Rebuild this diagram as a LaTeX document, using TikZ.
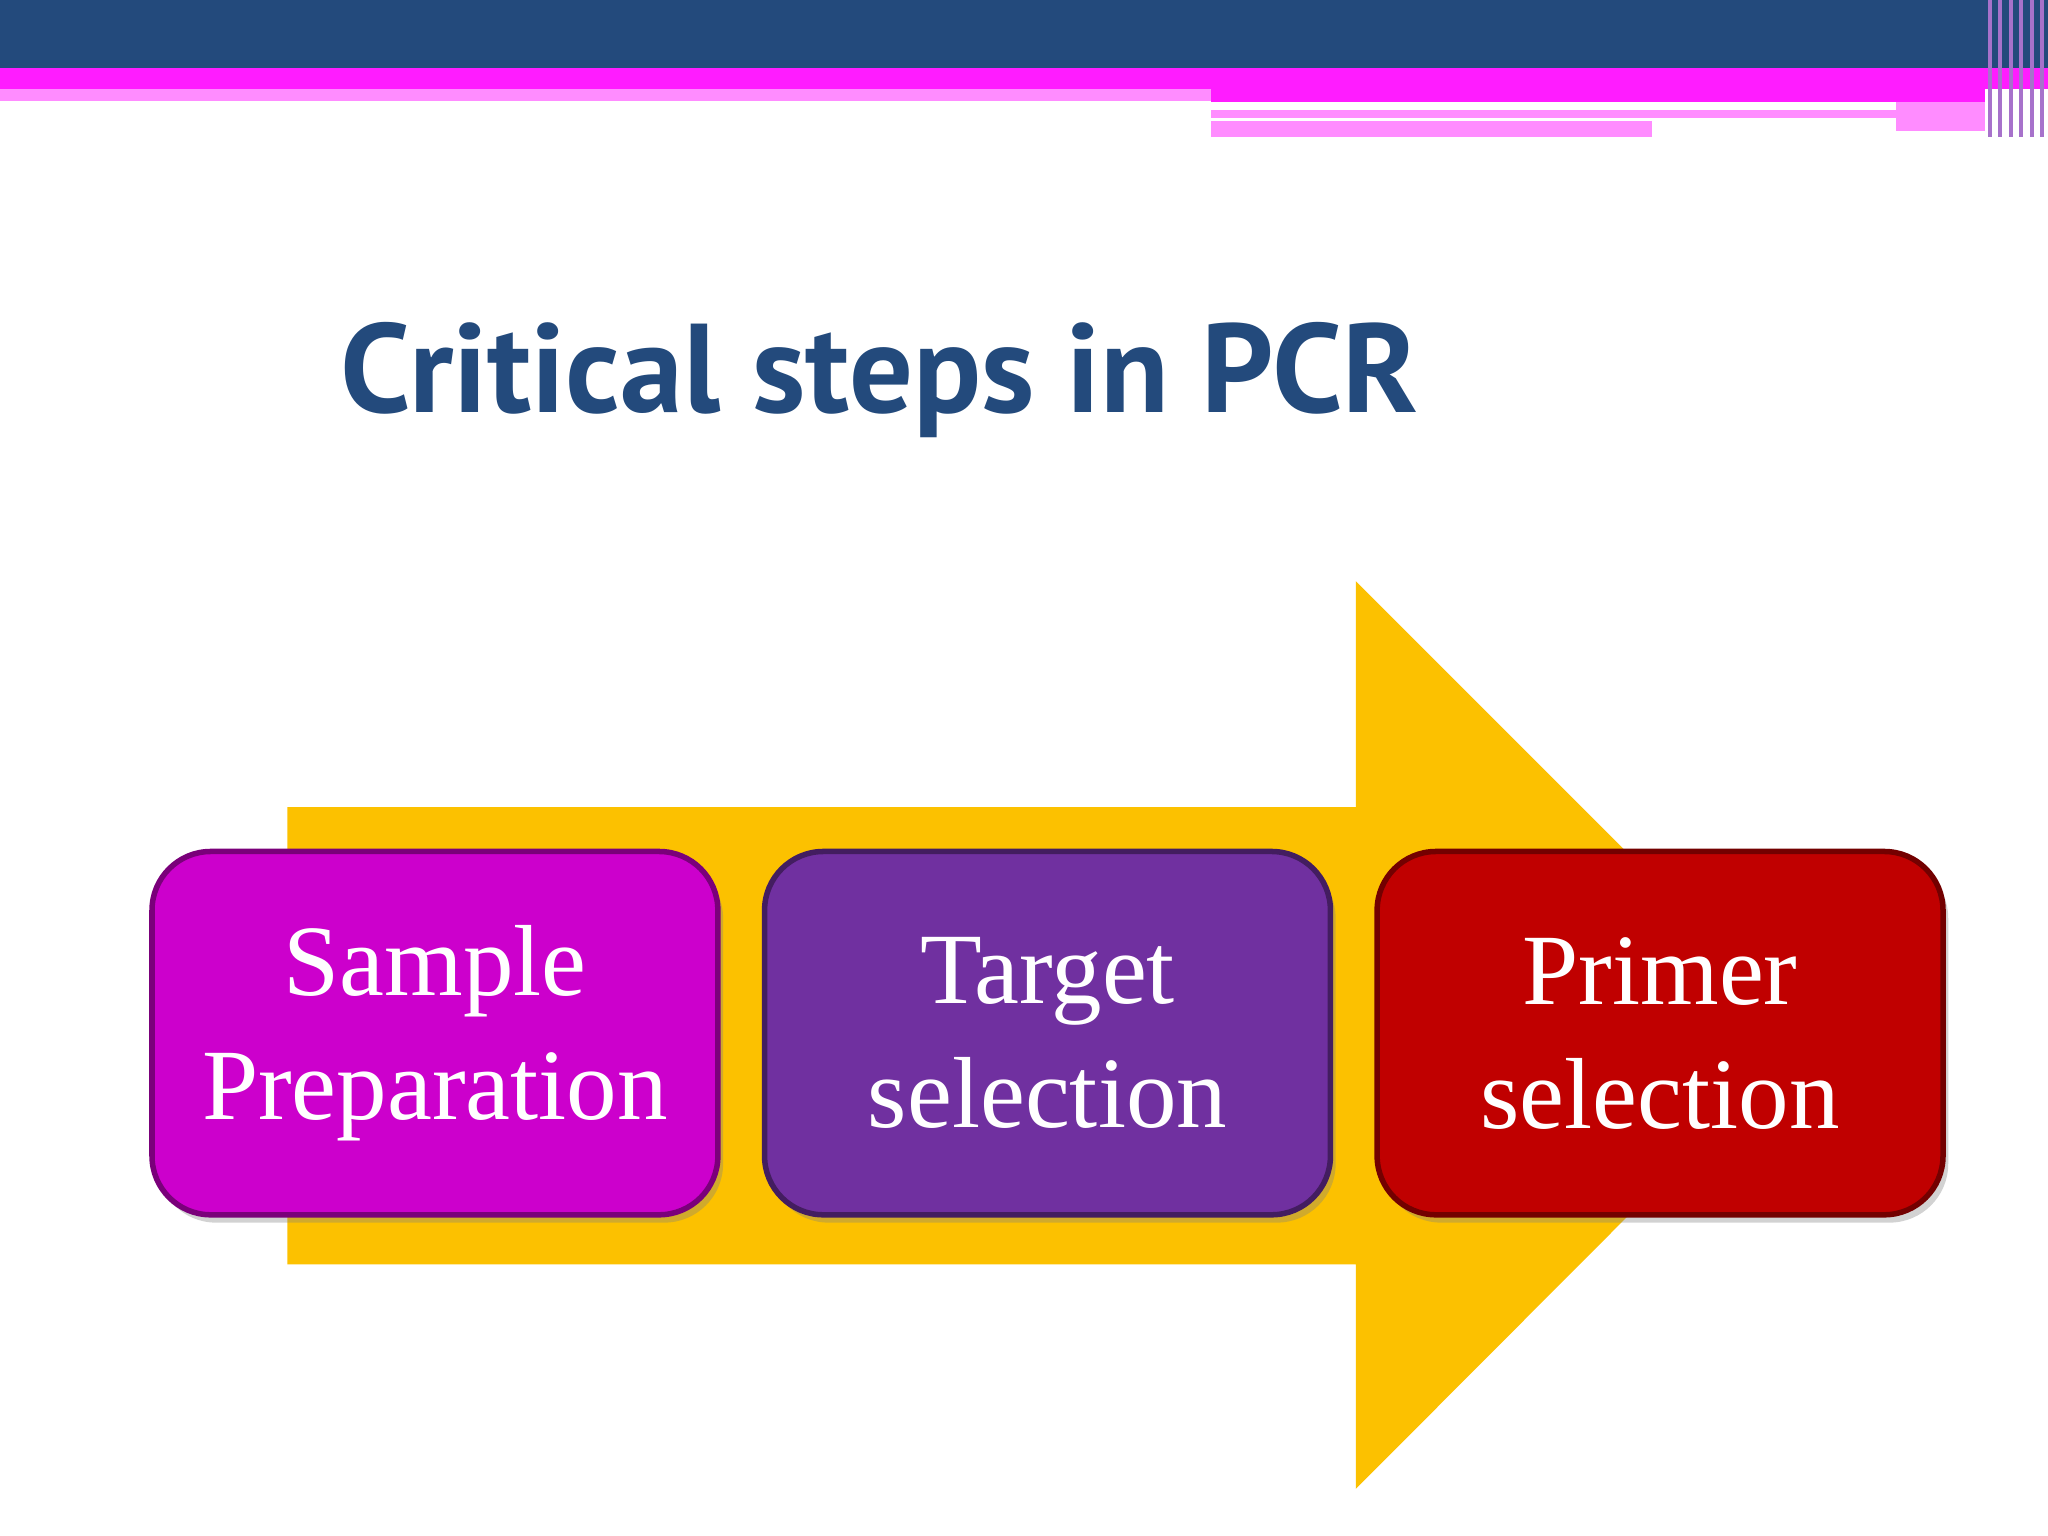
\documentclass[tikz,border=0pt]{standalone}
\usepackage{fontspec}
\setmainfont{Liberation Serif}
\newfontfamily\titlefont{PT Sans}
\usetikzlibrary{shadows}
\definecolor{topblue}{HTML}{234A7C}
\definecolor{mag}{HTML}{FF1CFF}
\definecolor{lpink}{HTML}{FF8CFF}
\definecolor{arrowc}{HTML}{FCC100}
\definecolor{boxa}{HTML}{CC00CC}
\definecolor{boxb}{HTML}{7030A0}
\definecolor{boxc}{HTML}{C00000}
\begin{document}
\begin{tikzpicture}[x=0.01cm,y=-0.01cm,
  step/.style={draw=#1!60!black,line width=1.2pt,fill=#1,rounded corners=0.45cm,
    minimum width=4.33cm,minimum height=2.78cm,text width=4.1cm,inner sep=0pt,text=white,align=center,
    font=\fontsize{22}{27}\selectfont,drop shadow={shadow xshift=0.04cm,shadow yshift=-0.06cm,opacity=0.35}}]
\useasboundingbox (0,0) rectangle (1568,1176);
\fill[white] (0,0) rectangle (1568,1176);
% top bars
\fill[topblue] (0,0) rectangle (1568,52);
\fill[mag] (0,52) rectangle (1568,68);
\fill[lpink] (0,68) rectangle (927,77);
\fill[mag] (927,68) rectangle (1520,78);
\fill[lpink] (927,84) rectangle (1452,90);
\fill[lpink] (927,93) rectangle (1265,105);
\fill[lpink] (1452,78) rectangle (1520,100);
\foreach \x in {1522,1530,1538,1546,1554,1562}{\fill[lpink!60!topblue] (\x,0) rectangle (\x+3,105);}
% title
\node[anchor=west,text=topblue,font=\titlefont\bfseries\fontsize{27.5}{33}\selectfont] (title) at (248,291) {Critical steps in PCR};
% arrow
\fill[arrowc] (220,618) -- (1038,618) -- (1038,445) -- (1385,792) -- (1038,1140) -- (1038,968) -- (220,968) -- cycle;
% boxes
\node[step=boxa] (s1) at (333,791) {Sample\\Preparation};
\node[step=boxb] (s2) at (802,791) {\fontsize{22}{19}\selectfont Target\\selection};
\node[step=boxc] (s3) at (1271,791) {Primer\\selection};
\end{tikzpicture}
\end{document}
